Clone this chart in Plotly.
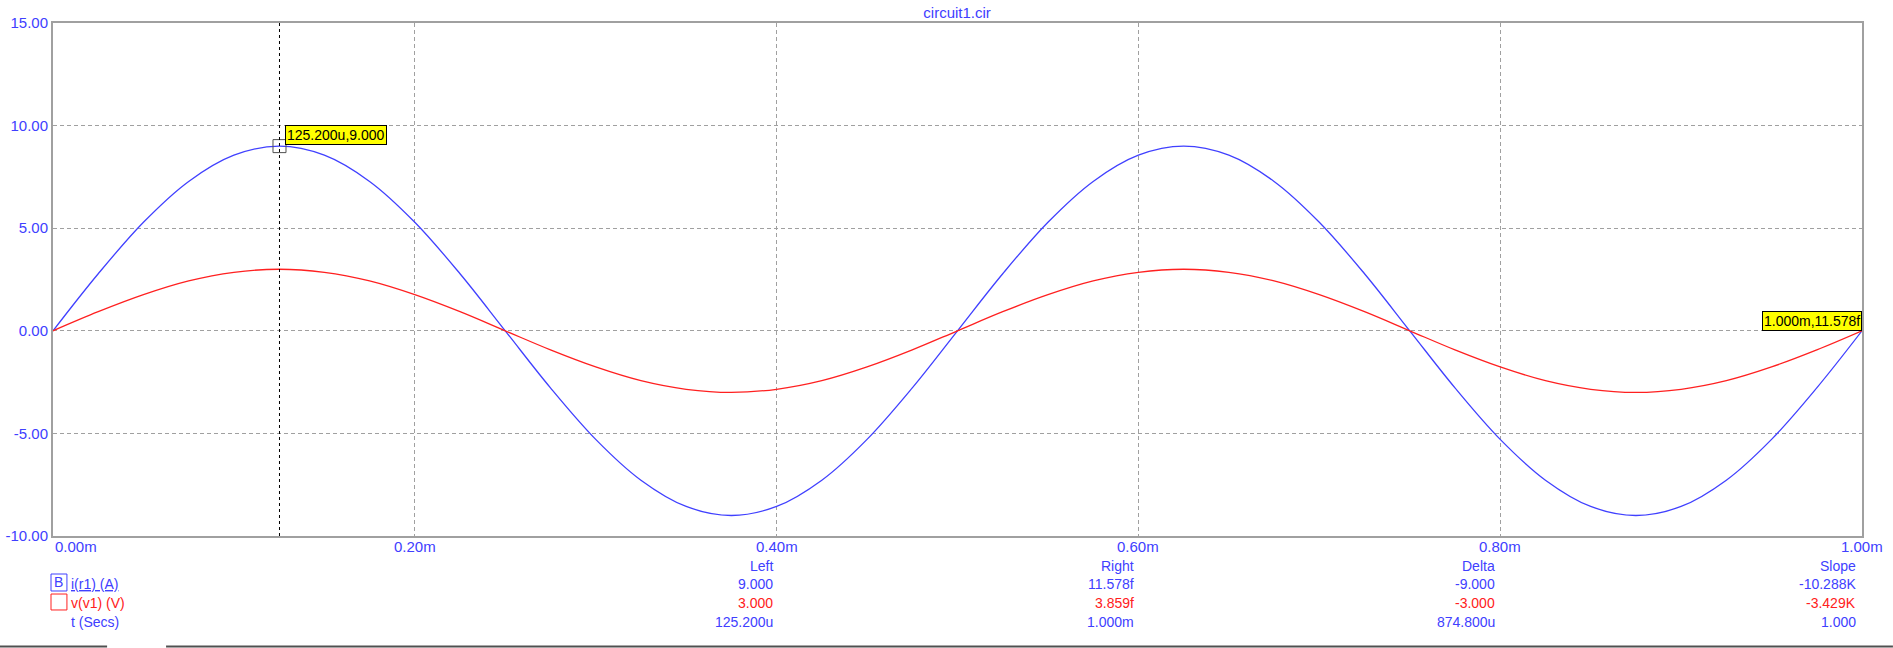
import plotly.graph_objects as go

# ---- data (time in ms) ----
t_ms = [0.000, 0.025, 0.050, 0.075, 0.100, 0.125, 0.150, 0.175, 0.200, 0.225,
        0.250, 0.275, 0.300, 0.325, 0.350, 0.375, 0.400, 0.425, 0.450, 0.475,
        0.500, 0.525, 0.550, 0.575, 0.600, 0.625, 0.650, 0.675, 0.700, 0.725,
        0.750, 0.775, 0.800, 0.825, 0.850, 0.875, 0.900, 0.925, 0.950, 0.975,
        1.000]
i_r1 = [0.00, 2.78, 5.29, 7.28, 8.56, 9.00, 8.56, 7.28, 5.29, 2.78,
        0.00, -2.78, -5.29, -7.28, -8.56, -9.00, -8.56, -7.28, -5.29, -2.78,
        0.00, 2.78, 5.29, 7.28, 8.56, 9.00, 8.56, 7.28, 5.29, 2.78,
        0.00, -2.78, -5.29, -7.28, -8.56, -9.00, -8.56, -7.28, -5.29, -2.78,
        0.00]
v_v1 = [0.00, 0.93, 1.76, 2.43, 2.85, 3.00, 2.85, 2.43, 1.76, 0.93,
        0.00, -0.93, -1.76, -2.43, -2.85, -3.00, -2.85, -2.43, -1.76, -0.93,
        0.00, 0.93, 1.76, 2.43, 2.85, 3.00, 2.85, 2.43, 1.76, 0.93,
        0.00, -0.93, -1.76, -2.43, -2.85, -3.00, -2.85, -2.43, -1.76, -0.93,
        0.00]

x_tickvals = [0.0, 0.2, 0.4, 0.6, 0.8, 1.0]
x_ticktext = ["0.00m", "0.20m", "0.40m", "0.60m", "0.80m", "1.00m"]
y_tickvals = [-10, -5, 0, 5, 10, 15]
y_ticktext = ["-10.00", "-5.00", "0.00", "5.00", "10.00", "15.00"]

cursor_left = (0.1252, 9.000)
cursor_left_label = "125.200u,9.000"
cursor_right = (1.000, 0.0)
cursor_right_label = "1.000m,11.578f"

table_headers = ["Left", "Right", "Delta", "Slope"]
table_cols_x = [0.3991, 0.5987, 0.7983, 0.9978]
row_i = ["9.000", "11.578f", "-9.000", "-10.288K"]
row_v = ["3.000", "3.859f", "-3.000", "-3.429K"]
row_t = ["125.200u", "1.000m", "874.800u", "1.000"]

BLUE = "#4040ff"
RED = "#ff2020"
GRID = "#a0a0a0"
FONT = "Arial, Liberation Sans, sans-serif"

fig = go.Figure()
fig.add_trace(go.Scatter(x=t_ms, y=i_r1, mode="lines", line=dict(color=BLUE, width=1.3, shape="spline"),
                         name="i(r1) (A)", hoverinfo="skip"))
fig.add_trace(go.Scatter(x=t_ms, y=v_v1, mode="lines", line=dict(color=RED, width=1.3, shape="spline"),
                         name="v(v1) (V)", hoverinfo="skip"))
fig.add_trace(go.Scatter(x=[cursor_left[0]], y=[cursor_left[1]], mode="markers",
                         marker=dict(symbol="square-open", size=13, color="#505050", line=dict(width=1)),
                         hoverinfo="skip"))

fig.add_shape(type="line", x0=cursor_left[0], x1=cursor_left[0], y0=-10, y1=15, xref="x", yref="y",
              line=dict(color="black", width=1, dash="3px,3px"))

annotations = []
annotations.append(dict(x=cursor_left[0], y=cursor_left[1], xref="x", yref="y", text=cursor_left_label,
                        showarrow=False, xanchor="left", yanchor="bottom", xshift=6, yshift=1,
                        bgcolor="#ffff00", bordercolor="black", borderwidth=1, borderpad=1,
                        font=dict(family=FONT, size=14, color="black")))
annotations.append(dict(x=cursor_right[0], y=cursor_right[1], xref="x", yref="y", text=cursor_right_label,
                        showarrow=False, xanchor="right", yanchor="bottom", xshift=0, yshift=0,
                        bgcolor="#ffff00", bordercolor="black", borderwidth=1, borderpad=1,
                        font=dict(family=FONT, size=14, color="black")))

# x tick labels
for v, txt in zip(x_tickvals, x_ticktext):
    annotations.append(dict(x=v, y=-0.0214, xref="paper", yref="paper", text=txt, showarrow=False,
                            xanchor="left" if v == 0 else "center", yanchor="middle",
                            font=dict(family=FONT, size=15, color=BLUE)))

# table
y_head, y_r1, y_r2, y_r3 = -0.0585, -0.0936, -0.1306, -0.1676
for cx, h, a, b, c in zip(table_cols_x, table_headers, row_i, row_v, row_t):
    for yy, txt, col in [(y_head, h, BLUE), (y_r1, a, BLUE), (y_r2, b, RED), (y_r3, c, BLUE)]:
        annotations.append(dict(x=cx, y=yy, xref="paper", yref="paper", text=txt, showarrow=False,
                                xanchor="right", yanchor="middle",
                                font=dict(family=FONT, size=14, color=col)))

# legend labels
for yy, txt, col in [(y_r1, "<u>i(r1) (A)</u>", BLUE), (y_r2, "v(v1) (V)", RED), (y_r3, "t (Secs)", BLUE)]:
    annotations.append(dict(x=0.0088, y=yy, xref="paper", yref="paper", text=txt, showarrow=False,
                            xanchor="left", yanchor="middle", font=dict(family=FONT, size=14, color=col)))
annotations.append(dict(x=0.0033, y=-0.0906, xref="paper", yref="paper", text="B", showarrow=False,
                        xanchor="center", yanchor="middle", font=dict(family=FONT, size=14, color=BLUE)))
fig.add_shape(type="rect", x0=-0.0011, x1=0.0077, y0=-0.0741, y1=-0.1072, xref="paper", yref="paper",
              line=dict(color=BLUE, width=1))
fig.add_shape(type="rect", x0=-0.0011, x1=0.0077, y0=-0.1131, y1=-0.1442, xref="paper", yref="paper",
              line=dict(color=RED, width=1))

# bottom bar
fig.add_shape(type="line", x0=-0.0293, x1=0.0299, y0=-0.2154, y1=-0.2154, xref="paper", yref="paper",
              line=dict(color="#505050", width=2))
fig.add_shape(type="line", x0=0.0625, x1=1.0171, y0=-0.2154, y1=-0.2154, xref="paper", yref="paper",
              line=dict(color="#505050", width=2))

fig.update_layout(
    width=1893, height=648, autosize=False,
    margin=dict(l=53, r=31, t=23, b=112, pad=0, autoexpand=False),
    paper_bgcolor="white", plot_bgcolor="white",
    showlegend=False,
    title=dict(text="circuit1.cir", x=0.5056, xanchor="center", y=1 - 13 / 648, yanchor="middle",
               font=dict(family=FONT, size=15, color=BLUE)),
    font=dict(family=FONT, size=14, color=BLUE),
    annotations=annotations,
    xaxis=dict(range=[0, 1], tickvals=x_tickvals, showticklabels=False, automargin=False,
               showgrid=True, gridcolor=GRID, griddash="4px,3px", gridwidth=1, zeroline=False,
               showline=True, linecolor=GRID, linewidth=2, mirror=True, ticks=""),
    yaxis=dict(range=[-10, 15], tickvals=y_tickvals, ticktext=y_ticktext, automargin=False,
               showgrid=True, gridcolor=GRID, griddash="4px,3px", gridwidth=1, zeroline=False,
               showline=True, linecolor=GRID, linewidth=2, mirror=True, ticks="", ticklabelstandoff=0,
               tickfont=dict(family=FONT, size=15, color=BLUE)),
)

fig.write_html("out.html", config={"displayModeBar": False},
               post_script="document.body.style.margin='0';document.body.style.overflow='hidden';")
